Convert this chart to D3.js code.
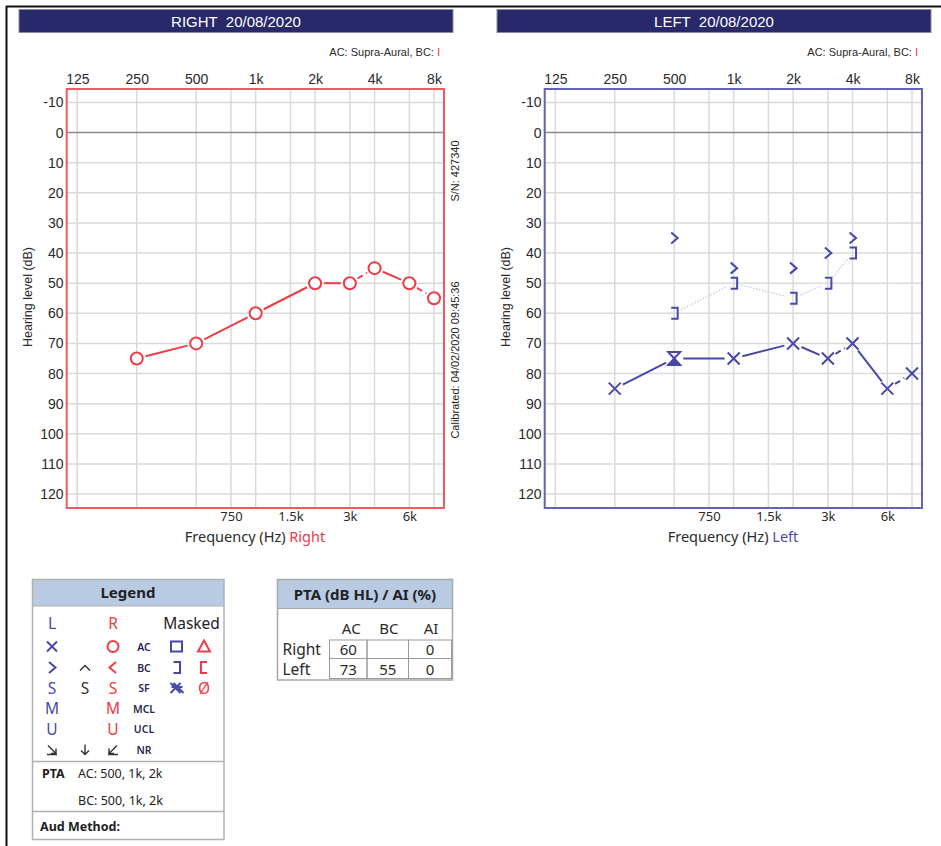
<!DOCTYPE html>
<html>
<head>
<meta charset="utf-8">
<script src="https://cdn.jsdelivr.net/npm/d3@7"></script>
<style>
  body { margin: 0; background: #fff; }
  svg { display: block; }
</style>
</head>
<body>
<svg id="page" width="941" height="846"></svg>
<script>
// octave + inter-octave frequencies
const freqs = [125, 250, 500, 1000, 2000, 4000, 8000]
const freqLabels = ['125', '250', '500', '1k', '2k', '4k', '8k']
const midFreqs = [750, 1500, 3000, 6000]
const midLabels = ['750', '1.5k', '3k', '6k']
const levels = [-10, 0, 10, 20, 30, 40, 50, 60, 70, 80, 90, 100, 110, 120]

// right ear, air conduction
const rightACFreq = [250, 500, 1000, 2000, 3000, 4000, 6000, 8000]
const rightAC = [75, 70, 60, 50, 50, 45, 50, 55]

// left ear
const leftACFreq = [250, 500, 1000, 2000, 3000, 4000, 6000, 8000]
const leftAC = [85, 75, 75, 70, 75, 70, 85, 80]
const leftACMark = ['x', 'hourglass', 'x', 'x', 'x', 'x', 'x', 'x']
const leftBCFreq = [500, 1000, 2000, 3000, 4000]
const leftBC = [35, 45, 45, 40, 35]
const leftBCMasked = [60, 50, 55, 50, 40]

// PTA table
const ptaRows = ['Right', 'Left']
const ptaCols = ['AC', 'BC', 'AI']
const ptaValues = [['60', '', '0'], ['73', '55', '0']]

const navy = '#28286a'
const red = '#ee3b46'
const blue = '#4848a8'
const textCol = '#2a2a2a'
const arial = '"Liberation Sans", Arial, sans-serif'
const segoe = '"Noto Sans", "Open Sans", sans-serif'

const svg = d3.select('#page')

// page frame
svg.append('line').attr('x1', 6.5).attr('y1', 6).attr('x2', 6.5).attr('y2', 846)
  .attr('stroke', '#111').attr('stroke-width', 2)
svg.append('line').attr('x1', 6).attr('y1', 6.5).attr('x2', 941).attr('y2', 6.5)
  .attr('stroke', '#111').attr('stroke-width', 2)

const markers = {
  circle: 'M6,0A6,6 0 1,1 -6,0A6,6 0 1,1 6,0Z',
  x: 'M-6,-6L6,6M6,-6L-6,6',
  gt: 'M-3,-5.5L3.5,0L-3,5.5',
  lt: 'M3,-5.5L-3.5,0L3,5.5',
  caret: 'M-5,3L0,-2L5,3',
  bracketR: 'M-3,-5.5H3.5V5.5H-3',
  bracketL: 'M3,-5.5H-3V5.5H3',
  hourglass: 'M-6,-6.5H6L-6,6.5H6Z'
}

function drawSeries(g, x, y, fs, vs, color, opts) {
  const pts = fs.map((f, i) => ({ f: f, x: x(f), y: y(vs[i]) }))
  const trim = opts.trim
  if (!opts.noLine) {
    g.selectAll(null).data(d3.pairs(pts)).enter().append('line')
      .each(function (d) {
        const dx = d[1].x - d[0].x, dy = d[1].y - d[0].y
        const len = Math.sqrt(dx * dx + dy * dy)
        const ux = dx / len, uy = dy / len
        d3.select(this)
          .attr('x1', d[0].x + ux * trim).attr('y1', d[0].y + uy * trim)
          .attr('x2', d[1].x - ux * trim).attr('y2', d[1].y - uy * trim)
      })
      .attr('stroke', opts.lineColor || color)
      .attr('stroke-width', opts.lineWidth || 2)
      .attr('stroke-dasharray', d => opts.dash ? opts.dash : (midFreqs.includes(d[0].f) ? '6,4' : null))
  }
  pts.forEach((p, i) => {
    const m = Array.isArray(opts.marks) ? opts.marks[i] : opts.marks
    g.append('path').attr('d', markers[m])
      .attr('transform', `translate(${p.x},${p.y})`)
      .attr('fill', m == 'circle' ? '#fff' : 'none')
      .attr('stroke', color).attr('stroke-width', 2)
    if (m == 'hourglass') {
      g.append('path').attr('d', 'M0,0L-6,6.5H6Z').attr('fill', color)
        .attr('transform', `translate(${p.x},${p.y})`)
    }
  })
}

function panel(ox, side) {
  const g = svg.append('g').attr('transform', `translate(${ox},0)`)
  const frameCol = side == 'RIGHT' ? '#f05a5e' : '#6262bb'
  const x = d3.scaleLog().base(2).domain([125, 8000]).range([77.3, 434])
  const y = d3.scaleLinear().domain([-10, 120]).range([102.5, 494])
  const fx0 = x(125) - 10.6, fx1 = x(8000) + 10, fy0 = 89, fy1 = 508

  // title bar
  g.append('rect').attr('x', 19).attr('y', 9.5).attr('width', 434).attr('height', 23)
    .attr('fill', navy).attr('stroke', '#8a8a9a').attr('stroke-width', 1)
  g.append('text').attr('x', 236).attr('y', 27).attr('text-anchor', 'middle')
    .style('white-space', 'pre')
    .attr('font-family', arial).attr('font-size', 15).attr('fill', '#fff')
    .text(side + '  20/08/2020')

  const ac = g.append('text').attr('x', 440).attr('y', 55.5).attr('text-anchor', 'end')
    .attr('font-family', arial).attr('font-size', 11).attr('fill', textCol)
  ac.append('tspan').text('AC: Supra-Aural, BC: ')
  ac.append('tspan').attr('fill', red).text('I')

  // grid
  g.selectAll(null).data(freqs.concat(midFreqs)).enter().append('line')
    .attr('x1', d => x(d)).attr('x2', d => x(d)).attr('y1', fy0).attr('y2', fy1)
    .attr('stroke', '#dadada').attr('stroke-width', 1.5)
  g.selectAll(null).data(levels).enter().append('line')
    .attr('x1', fx0).attr('x2', fx1).attr('y1', d => y(d)).attr('y2', d => y(d))
    .attr('stroke', d => d == 0 ? '#8c8c8c' : '#dadada').attr('stroke-width', 1.5)

  g.append('rect').attr('x', fx0).attr('y', fy0).attr('width', fx1 - fx0).attr('height', fy1 - fy0)
    .attr('fill', 'none').attr('stroke', frameCol).attr('stroke-width', 2)

  // axes
  g.append('g').attr('transform', 'translate(0,84)')
    .call(d3.axisTop(x).tickValues(freqs).tickFormat((d, i) => freqLabels[i]).tickSize(0).tickPadding(0))
    .call(a => a.select('.domain').remove())
    .selectAll('text').attr('font-family', arial).attr('font-size', 14).attr('fill', textCol)

  g.append('g').attr('transform', 'translate(63.5,0)')
    .call(d3.axisLeft(y).tickValues(levels).tickFormat(d => String(d)).tickSize(0).tickPadding(0))
    .call(a => a.select('.domain').remove())
    .selectAll('text').attr('font-family', arial).attr('font-size', 14).attr('fill', textCol)

  g.append('g').attr('transform', `translate(0,${fy1})`)
    .call(d3.axisBottom(x).tickValues(midFreqs).tickFormat((d, i) => midLabels[i]).tickSize(0).tickPadding(4))
    .call(a => a.select('.domain').remove())
    .selectAll('text').attr('font-family', segoe).attr('font-size', 13).attr('fill', textCol)

  g.append('text').attr('transform', 'translate(32,297) rotate(-90)').attr('text-anchor', 'middle')
    .attr('font-family', arial).attr('font-size', 12.5).attr('fill', textCol)
    .text('Hearing level (dB)')

  const ft = g.append('text').attr('x', 255).attr('y', 542).attr('text-anchor', 'middle')
    .attr('font-family', segoe).attr('font-size', 14.5).attr('fill', textCol)
  ft.append('tspan').text('Frequency (Hz) ')
  ft.append('tspan').attr('fill', side == 'RIGHT' ? red : blue).text(side == 'RIGHT' ? 'Right' : 'Left')

  return { g: g, x: x, y: y }
}

// right panel
const R = panel(0, 'RIGHT')
R.g.append('text').attr('transform', 'translate(459,171) rotate(-90)').attr('text-anchor', 'middle')
  .attr('font-family', arial).attr('font-size', 11).attr('fill', '#222').text('S/N: 427340')
R.g.append('text').attr('transform', 'translate(459,360) rotate(-90)').attr('text-anchor', 'middle')
  .attr('font-family', arial).attr('font-size', 11).attr('fill', '#222').text('Calibrated: 04/02/2020 09:45:36')
drawSeries(R.g, R.x, R.y, rightACFreq, rightAC, red, { trim: 9, marks: 'circle' })

// left panel
const L = panel(478, 'LEFT')
drawSeries(L.g, L.x, L.y, leftBCFreq, leftBCMasked, blue,
  { trim: 8, marks: 'bracketR', dash: '1.5,1.5', lineColor: '#cfcfee', lineWidth: 1.5 })
drawSeries(L.g, L.x, L.y, leftBCFreq, leftBC, blue, { marks: 'gt', noLine: true })
drawSeries(L.g, L.x, L.y, leftACFreq, leftAC, blue, { trim: 9, marks: leftACMark })

// legend box
const lg = svg.append('g')
lg.append('rect').attr('x', 32.5).attr('y', 579.5).attr('width', 191.5).attr('height', 26.5)
  .attr('fill', '#b8cbe3')
lg.append('rect').attr('x', 32.5).attr('y', 579.5).attr('width', 191.5).attr('height', 260)
  .attr('fill', 'none').attr('stroke', '#b0b0b0').attr('stroke-width', 1.5)
lg.append('line').attr('x1', 32.5).attr('x2', 224).attr('y1', 606).attr('y2', 606).attr('stroke', '#b0b0b0')
lg.append('line').attr('x1', 32.5).attr('x2', 224).attr('y1', 761.5).attr('y2', 761.5).attr('stroke', '#b0b0b0').attr('stroke-width', 1.5)
lg.append('line').attr('x1', 32.5).attr('x2', 224).attr('y1', 811.5).attr('y2', 811.5).attr('stroke', '#b0b0b0').attr('stroke-width', 1.5)
lg.append('text').attr('x', 128).attr('y', 598).attr('text-anchor', 'middle')
  .attr('font-family', segoe).attr('font-weight', 'bold').attr('font-size', 15).attr('fill', '#222').text('Legend')

const legCols = [52, 85, 113, 144, 176.5, 204]
const legRowsY = [623, 646.5, 667.5, 688, 708.5, 729, 749.5]
const dark = '#333'
// each entry: [column, row, kind, content, color]
const legItems = [
  [0, 0, 't', 'L', blue], [2, 0, 't', 'R', red],
  [0, 1, 'p', 'x', blue], [2, 1, 'p', 'circle', red], [3, 1, 's', 'AC'],
  [4, 1, 'p', 'square', blue], [5, 1, 'p', 'tri', red],
  [0, 2, 'p', 'gt', blue], [1, 2, 'p', 'caret', dark], [2, 2, 'p', 'lt', red], [3, 2, 's', 'BC'],
  [4, 2, 'p', 'bracketR', blue], [5, 2, 'p', 'bracketL', red],
  [0, 3, 't', 'S', blue], [1, 3, 't', 'S', dark], [2, 3, 't', 'S', red], [3, 3, 's', 'SF'],
  [4, 3, 'p', 'xx', blue], [5, 3, 't', 'Ø', red],
  [0, 4, 't', 'M', blue], [2, 4, 't', 'M', red], [3, 4, 's', 'MCL'],
  [0, 5, 't', 'U', blue], [2, 5, 't', 'U', red], [3, 5, 's', 'UCL'],
  [0, 6, 'p', 'nrL', dark], [1, 6, 'p', 'nrD', dark], [2, 6, 'p', 'nrR', dark], [3, 6, 's', 'NR']
]
const legShapes = {
  x: 'M-5,-5L5,5M5,-5L-5,5',
  circle: 'M5.5,0A5.5,5.5 0 1,1 -5.5,0A5.5,5.5 0 1,1 5.5,0Z',
  square: 'M-5.5,-5H5.5V5H-5.5Z',
  tri: 'M0,-6L6,5H-6Z',
  gt: markers.gt, lt: markers.lt, caret: markers.caret,
  bracketR: markers.bracketR, bracketL: markers.bracketL,
  xx: 'M-6,-5L4,5M4,-5L-6,5M-3,-5L7,5M-5,-1H6',
  nrL: 'M-4,-4L4,4M4,-1V4H-1M-5,5H5',
  nrD: 'M0,-5V5M-4,1L0,5L4,1',
  nrR: 'M4,-4L-4,4M-4,-1V4H1M-5,5H5'
}
legItems.forEach(d => {
  const cx = legCols[d[0]], cy = legRowsY[d[1]]
  if (d[2] == 't') {
    lg.append('text').attr('x', cx).attr('y', cy + 5.5).attr('text-anchor', 'middle')
      .attr('font-family', segoe).attr('font-size', 15.5).attr('fill', d[4]).text(d[3])
  } else if (d[2] == 's') {
    lg.append('text').attr('x', cx).attr('y', cy + 4).attr('text-anchor', 'middle')
      .attr('font-family', segoe).attr('font-weight', 600).attr('font-size', 10.5).attr('fill', '#2a2a50').text(d[3])
  } else {
    lg.append('path').attr('d', legShapes[d[3]]).attr('transform', `translate(${cx},${cy})`)
      .attr('fill', 'none').attr('stroke', d[4]).attr('stroke-width', d[4] == dark ? 1.4 : 2)
  }
})
lg.append('text').attr('x', 191.5).attr('y', 628.5).attr('text-anchor', 'middle')
  .attr('font-family', segoe).attr('font-size', 15.5).attr('fill', '#222').text('Masked')

lg.append('text').attr('x', 42).attr('y', 778).attr('font-family', segoe).attr('font-weight', 'bold')
  .attr('font-size', 12.5).attr('fill', '#222').text('PTA')
lg.append('text').attr('x', 78).attr('y', 778).attr('font-family', segoe)
  .attr('font-size', 12.5).attr('fill', '#222').text('AC: 500, 1k, 2k')
lg.append('text').attr('x', 78).attr('y', 805).attr('font-family', segoe)
  .attr('font-size', 12.5).attr('fill', '#222').text('BC: 500, 1k, 2k')
lg.append('text').attr('x', 40).attr('y', 831).attr('font-family', segoe).attr('font-weight', 'bold')
  .attr('font-size', 12.5).attr('fill', '#222').text('Aud Method:')

// PTA table
const pt = svg.append('g')
pt.append('rect').attr('x', 277.5).attr('y', 579.5).attr('width', 175).attr('height', 29)
  .attr('fill', '#b8cbe3')
pt.append('rect').attr('x', 277.5).attr('y', 579.5).attr('width', 175).attr('height', 100.5)
  .attr('fill', 'none').attr('stroke', '#a8a8a8').attr('stroke-width', 1.5)
pt.append('line').attr('x1', 277.5).attr('x2', 452.5).attr('y1', 608.5).attr('y2', 608.5).attr('stroke', '#a8a8a8')
pt.append('text').attr('x', 365).attr('y', 600).attr('text-anchor', 'middle')
  .attr('font-family', segoe).attr('font-weight', 'bold').attr('font-size', 15).attr('fill', '#222')
  .text('PTA (dB HL) / AI (%)')

const cellX = [329.5, 367, 408.5, 451.5]
const cellY = [640, 658.5, 678.5]
const colCenters = d3.pairs(cellX).map(p => (p[0] + p[1]) / 2)
pt.selectAll(null).data(ptaCols).enter().append('text')
  .attr('x', (d, i) => colCenters[i] + (i == 0 ? 3 : 1)).attr('y', 634).attr('text-anchor', 'middle')
  .attr('font-family', segoe).attr('font-size', 15).attr('fill', textCol).text(d => d)
ptaRows.forEach((r, ri) => {
  pt.append('text').attr('x', 282.5).attr('y', cellY[ri + 1] - 3.5)
    .attr('font-family', segoe).attr('font-size', 15.5).attr('fill', textCol).text(r)
  ptaValues[ri].forEach((v, ci) => {
    pt.append('rect').attr('x', cellX[ci]).attr('y', cellY[ri])
      .attr('width', cellX[ci + 1] - cellX[ci]).attr('height', cellY[ri + 1] - cellY[ri])
      .attr('fill', 'none').attr('stroke', '#9a9a9a').attr('stroke-width', 1)
    pt.append('text').attr('x', colCenters[ci]).attr('y', cellY[ri + 1] - 4)
      .attr('text-anchor', 'middle').attr('font-family', segoe).attr('font-size', 15)
      .attr('fill', textCol).text(v)
  })
})
</script>
</body>
</html>
